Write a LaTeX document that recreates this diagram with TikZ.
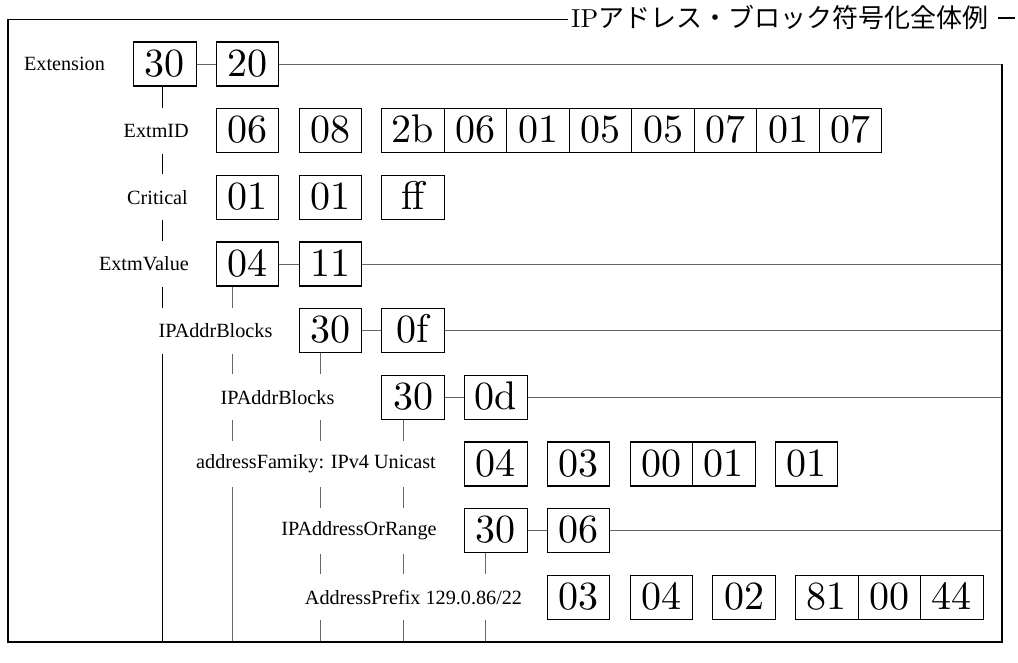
\documentclass[tikz,border=0pt]{standalone}
\usepackage{fontspec}
\newfontfamily\labfont{Liberation Serif}
\newfontfamily\cjk{Noto Sans CJK JP}
\newfontfamily\digfont{lmroman10-regular}[Extension=.otf]
\tikzset{
  byte/.style={draw, line width=1.1pt, minimum width=62.5pt, minimum height=44pt,
    inner sep=0pt, text height=24pt, text depth=0pt, anchor=west,
    font=\digfont\fontsize{40}{40}\selectfont},
  lbl/.style={fill=white, inner xsep=3pt, inner ysep=0pt, minimum height=46pt,
    font=\labfont\fontsize{20.2}{22}\selectfont},
  conn/.style={draw=black!60, line width=1pt},
  vmain/.style={draw=black, line width=1pt},
  frame/.style={draw=black, line width=1.3pt},
}
\begin{document}
\begin{tikzpicture}[x=1pt,y=-1pt]
\useasboundingbox (0,0) rectangle (1018,662);
% frame corners
\coordinate (ftl) at (8,19.5);
\coordinate (fte) at (568,19.5);
\coordinate (fbl) at (8,642);
\coordinate (fbr) at (1002,642);
\coordinate (ftr) at (1002,64);
\coordinate (d1) at (998,18);
\coordinate (d2) at (1015,18);
% row 1
\node[byte] (e30) at (133,64) {30};
\node[byte] (e20) at (215.75,64) {20};
% row 2
\node[byte] (id06) at (215.75,130.67) {06};
\node[byte] (id08) at (298.5,130.67) {08};
\node[byte] (o1) at (381.25,130.67) {2b};
\node[byte] (o2) at (443.75,130.67) {06};
\node[byte] (o3) at (506.25,130.67) {01};
\node[byte] (o4) at (568.75,130.67) {05};
\node[byte] (o5) at (631.25,130.67) {05};
\node[byte] (o6) at (693.75,130.67) {07};
\node[byte] (o7) at (756.25,130.67) {01};
\node[byte] (o8) at (818.75,130.67) {07};
% row 3
\node[byte] (cr1) at (215.75,197.33) {01};
\node[byte] (cr2) at (298.5,197.33) {01};
\node[byte] (cr3) at (381.25,197.33) {ff};
% row 4
\node[byte] (ev04) at (215.75,264) {04};
\node[byte] (ev11) at (298.5,264) {11};
% row 5
\node[byte] (ib30) at (298.5,330.67) {30};
\node[byte] (ib0f) at (381.25,330.67) {0f};
% row 6
\node[byte] (ic30) at (381.25,397.33) {30};
\node[byte] (ic0d) at (464,397.33) {0d};
% row 7
\node[byte] (af04) at (464,464) {04};
\node[byte] (af03) at (546.75,464) {03};
\node[byte] (af00) at (629.5,464) {00};
\node[byte] (af01) at (692,464) {01};
\node[byte] (af01b) at (774.5,464) {01};
% row 8
\node[byte] (ar30) at (464,530.67) {30};
\node[byte] (ar06) at (546.75,530.67) {06};
% row 9
\node[byte] (ap03) at (546.75,597.33) {03};
\node[byte] (ap04) at (629.5,597.33) {04};
\node[byte] (ap02) at (712.25,597.33) {02};
\node[byte] (ap81) at (795,597.33) {81};
\node[byte] (ap00) at (857.5,597.33) {00};
\node[byte] (ap44) at (920,597.33) {44};

% vertical tree lines (behind labels)
\draw[vmain] ([xshift=-2pt]e30.south) -- ([xshift=-2pt]e30.south |- fbl);
\draw[conn] ([xshift=-15pt]ev04.south) -- ([xshift=-15pt]ev04.south |- fbl);
\draw[conn] ([xshift=-10pt]ib30.south) -- ([xshift=-10pt]ib30.south |- fbl);
\draw[conn] ([xshift=-10pt]ic30.south) -- ([xshift=-10pt]ic30.south |- fbl);
\draw[conn] ([xshift=-10pt]ar30.south) -- ([xshift=-10pt]ar30.south |- fbl);

% horizontal connectors
\draw[conn] (e30) -- (e20);
\draw[conn] (e20) -- (e20 -| ftr);
\draw[conn] (ev04) -- (ev11);
\draw[conn] (ev11) -- (ev11 -| ftr);
\draw[conn] (ib30) -- (ib0f);
\draw[conn] (ib0f) -- (ib0f -| ftr);
\draw[conn] (ic30) -- (ic0d);
\draw[conn] (ic0d) -- (ic0d -| ftr);
\draw[conn] (ar30) -- (ar06);
\draw[conn] (ar06) -- (ar06 -| ftr);

% labels
\node[lbl] (lExt) at (64.5,64) {Extension};
\node[lbl, anchor=east] (lId) at (192,130.67) {ExtmID};
\node[lbl, anchor=east] (lCr) at (191,197.33) {Critical};
\node[lbl, anchor=east] (lEv) at (192,264) {ExtmValue};
\node[lbl] (lIb) at (215.5,330.67) {IPAddrBlocks};
\node[lbl] (lIc) at (277.5,397.33) {IPAddrBlocks};
\node[lbl] (lAf) at (316,464) {addressFamiky: IPv4 Unicast};
\node[lbl] (lAr) at (359,530.67) {IPAddressOrRange};
\node[lbl] (lAp) at (413.5,597.33) {AddressPrefix 129.0.86/22};

% frame and title
\draw[frame] (fte) -- (ftl) -- (fbl) -- (fbr) -- (ftr);
\draw[line width=1.1pt] (d1) -- (d2);
\node[anchor=west, inner sep=0pt, font=\fontsize{26}{26}\selectfont] (title) at (571,17)
  {{\digfont IP}{\cjk アドレス・ブロック符号化全体例}};
\end{tikzpicture}
\end{document}
